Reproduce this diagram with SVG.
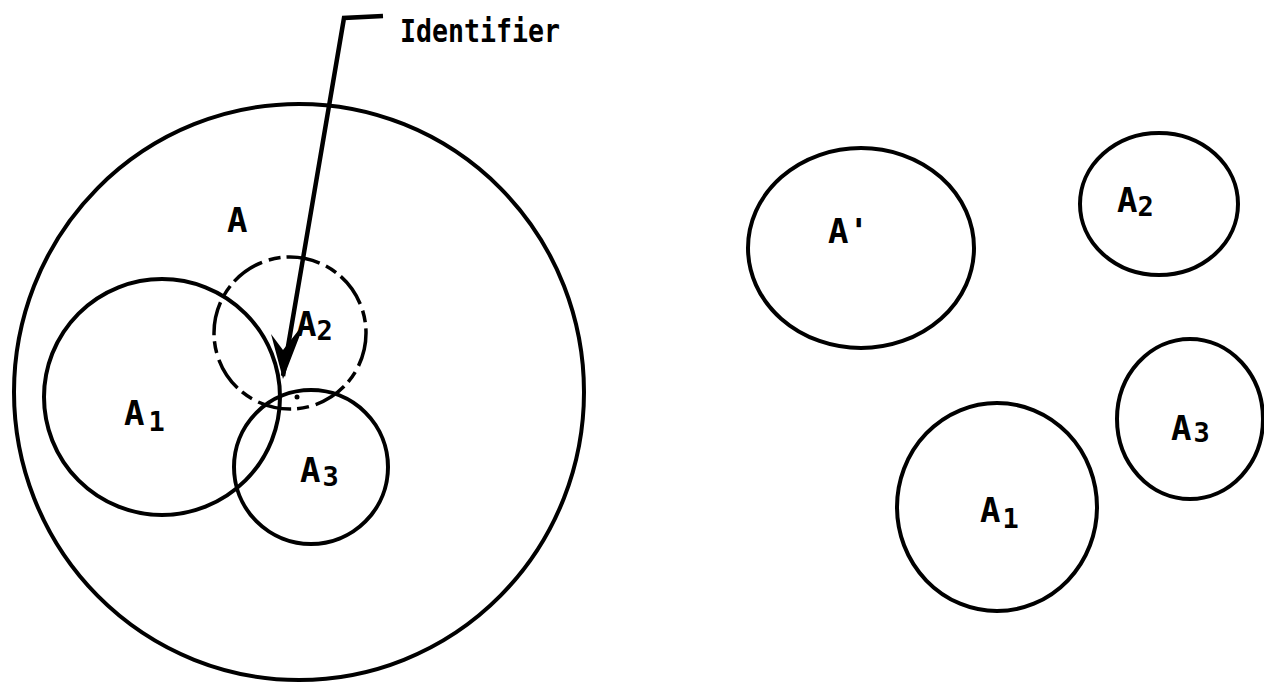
<svg xmlns="http://www.w3.org/2000/svg" width="1264" height="698" viewBox="0 0 1264 698">
<style>
.c{fill:none;stroke:#000;stroke-width:4}
.d{fill:none;stroke:#000;stroke-width:3.5;stroke-dasharray:34 7 12 6}
.t{font-family:"DejaVu Sans Mono","Liberation Mono",monospace;font-weight:bold;font-size:34px;fill:#000}
.s{font-size:27px}
</style>
<rect width="1264" height="698" fill="#fff"/>
<g id="nodeA"><ellipse class="c" cx="299" cy="392" rx="285" ry="288"/><text class="t" x="227" y="232">A</text></g>
<g id="nodeA1"><circle class="c" cx="162" cy="397" r="118"/><text class="t" x="124" y="425">A<tspan class="s" dx="4" dy="6">1</tspan></text></g>
<g id="nodeA2"><circle class="d" cx="290" cy="333" r="76"/><text class="t" x="296" y="336">A<tspan class="s" dy="4">2</tspan></text></g>
<g id="nodeA3"><circle class="c" cx="311" cy="467" r="77"/><text class="t" x="300" y="482">A<tspan class="s" dx="2" dy="4">3</tspan></text></g>
<g id="nodeAprime"><ellipse class="c" cx="861" cy="248" rx="113" ry="100"/><text class="t" x="828" y="243">A'</text></g>
<g id="nodeA2r"><ellipse class="c" cx="1159" cy="204" rx="79" ry="71"/><text class="t" x="1117" y="212">A<tspan class="s" dy="4">2</tspan></text></g>
<g id="nodeA3r"><ellipse class="c" cx="1190" cy="419" rx="73" ry="80"/><text class="t" x="1171" y="440">A<tspan class="s" dx="2" dy="2">3</tspan></text></g>
<g id="nodeA1r"><ellipse class="c" cx="997" cy="507" rx="100" ry="104"/><text class="t" x="980" y="522">A<tspan class="s" dx="2" dy="6">1</tspan></text></g>
<circle cx="297" cy="397" r="2.5" fill="#000"/>
<g id="identifier"><text class="t" x="400" y="42" textLength="160" lengthAdjust="spacingAndGlyphs" style="font-size:32px">Identifier</text></g>
<g id="connectors">
<path d="M383,16 L344,18 L283,376" fill="none" stroke="#000" stroke-width="4.5" stroke-linejoin="miter"/>
<path d="M283,379 L271,334 L283,350 L305,322 Z" fill="#000"/>
</g>
</svg>
